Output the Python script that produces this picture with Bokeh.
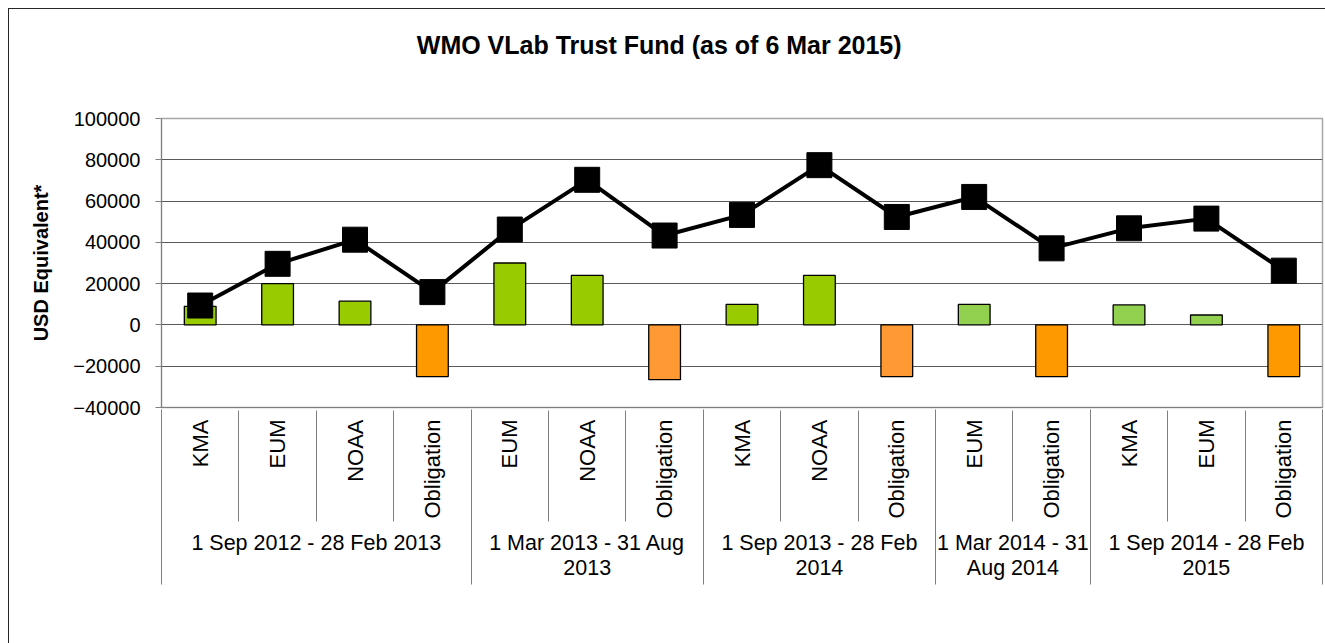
import numpy as np
from math import pi
from bokeh.plotting import figure
from bokeh.models import Range1d, FixedTicker, LinearAxis, BasicTickFormatter, ColumnDataSource
from bokeh.embed import file_html
from bokeh.resources import INLINE

# ---------------- data ----------------
title_text = "WMO VLab Trust Fund (as of 6 Mar 2015)"
y_label = "USD Equivalent*"
periods = ["1 Sep 2012 - 28 Feb 2013", "1 Mar 2013 - 31 Aug\n2013", "1 Sep 2013 - 28 Feb\n2014",
           "1 Mar 2014 - 31\nAug 2014", "1 Sep 2014 - 28 Feb\n2015"]
period_sizes = [4, 3, 3, 2, 3]
sources = ["KMA", "EUM", "NOAA", "Obligation", "EUM", "NOAA", "Obligation", "KMA", "NOAA",
           "Obligation", "EUM", "Obligation", "KMA", "EUM", "Obligation"]
amounts = [9000, 20000, 11500, -25000, 30000, 24000, -26500, 10000, 24000,
           -25000, 10000, -25000, 9700, 4800, -25000]
balance = [9400, 29600, 41300, 15900, 46200, 70300, 43300, 53300, 77400,
           52300, 62000, 37100, 46800, 51500, 26300]
y_ticks = [-40000, -20000, 0, 20000, 40000, 60000, 80000, 100000]

# ---------------- styles ----------------
G1, G2, O1, O2 = "#99CC00", "#92D050", "#FF9900", "#FF9933"
bar_colors = [G1, G1, G1, O1, G1, G1, O2, G1, G1, O2, G2, O1, G2, G2, O1]
FONT = "Liberation Sans"
LINE_GRAY = "#7F7F7F"
TITLE_X = 6.43   # horizontal centre of the chart title, in category units

n = len(sources)
xs = np.arange(n) + 0.5
bounds = np.concatenate([[0], np.cumsum(period_sizes)]).astype(float)
centers = (bounds[:-1] + bounds[1:]) / 2
all_bounds = list(np.arange(n + 1, dtype=float))

src = ColumnDataSource(dict(x=xs, amount=amounts, balance=balance, color=bar_colors))

p = figure(width=1325, height=643, x_range=Range1d(0, n), y_range=Range1d(y_ticks[0], y_ticks[-1]),
           x_axis_type=None, output_backend="svg", toolbar_location=None,
           min_border_left=161, min_border_right=3, min_border_top=118, min_border_bottom=236)
p.border_fill_color = None
p.background_fill_color = "white"
p.outline_line_color = "#A6A6A6"
p.outline_line_width = 1.5
p.styles = {
    "background": "linear-gradient(#262626,#262626) 8px 8px / 1px 100% no-repeat, "
                  "linear-gradient(#262626,#262626) 8px 8px / 100% 1px no-repeat, white",
}
p.title.text = ""

# chart title, drawn as the single label of an invisible axis above the plot
tax = LinearAxis(ticker=FixedTicker(ticks=[TITLE_X], minor_ticks=[]),
                 major_label_overrides={TITLE_X: title_text})
tax.major_label_text_font = FONT
tax.major_label_text_font_size = "25px"
tax.major_label_text_font_style = "bold"
tax.major_label_text_color = "black"
tax.major_label_standoff = 60
tax.major_tick_out = 0
tax.major_tick_in = 0
tax.major_tick_line_color = None
tax.minor_tick_line_color = None
tax.axis_line_color = None
p.add_layout(tax, "above")

# y axis
ya = p.yaxis[0]
ya.ticker = FixedTicker(ticks=y_ticks)
ya.formatter = BasicTickFormatter(use_scientific=False)
ya.major_label_text_font = FONT
ya.major_label_text_font_size = "20px"
ya.major_label_text_color = "black"
ya.major_label_standoff = 15
ya.major_tick_out = 6
ya.major_tick_in = 0
ya.minor_tick_line_color = None
ya.axis_line_color = LINE_GRAY
ya.major_tick_line_color = LINE_GRAY
ya.axis_label = y_label
ya.axis_label_text_font = FONT
ya.axis_label_text_font_size = "20px"
ya.axis_label_text_font_style = "bold"
ya.axis_label_text_color = "black"
ya.axis_label_standoff = 18

p.ygrid.ticker = FixedTicker(ticks=y_ticks[1:-1])
p.ygrid.grid_line_color = "#595959"
p.ygrid.grid_line_width = 1

# x axis 1: sources
ax1 = LinearAxis(ticker=FixedTicker(ticks=list(xs), minor_ticks=[]),
                 major_label_overrides={float(x): s for x, s in zip(xs, sources)})
ax1.major_label_orientation = pi / 2
ax1.major_label_text_font = FONT
ax1.major_label_text_font_size = "22px"
ax1.major_label_text_color = "black"
ax1.major_label_standoff = 12
ax1.major_tick_out = 0
ax1.major_tick_in = 0
ax1.minor_tick_in = 0
ax1.minor_tick_out = 0
ax1.minor_tick_line_color = None
ax1.major_tick_line_color = None
ax1.axis_line_color = LINE_GRAY
p.add_layout(ax1, "below")

# x axis 2: periods (its inward minor ticks draw the source separators)
ax2 = LinearAxis(ticker=FixedTicker(ticks=list(centers), minor_ticks=all_bounds),
                 major_label_overrides={float(c): s for c, s in zip(centers, periods)})
ax2.major_label_orientation = "horizontal"
ax2.major_label_text_font = FONT
ax2.major_label_text_font_size = "21.5px"
ax2.major_label_text_line_height = 1.07
ax2.major_label_text_color = "black"
ax2.major_label_standoff = 9
ax2.major_tick_out = 0
ax2.major_tick_in = 0
ax2.major_tick_line_color = None
ax2.minor_tick_in = 111
ax2.minor_tick_out = 0
ax2.minor_tick_line_color = LINE_GRAY
ax2.axis_line_color = None
p.add_layout(ax2, "below")

# x axis 3: no labels, inward minor ticks draw the period separators
ax3 = LinearAxis(ticker=FixedTicker(ticks=[], minor_ticks=list(bounds)))
ax3.major_label_text_font_size = "1px"
ax3.major_label_standoff = 0
ax3.major_tick_out = 0
ax3.major_tick_in = 0
ax3.major_tick_line_color = None
ax3.minor_tick_in = 174
ax3.minor_tick_out = 1
ax3.minor_tick_line_color = LINE_GRAY
ax3.axis_line_color = None
p.add_layout(ax3, "below")

# bars, line, markers
p.vbar(x="x", top="amount", bottom=0, width=0.41, fill_color="color", line_color="black",
       line_width=1.3, source=src)
p.line(x="x", y="balance", line_color="black", line_width=4, source=src)
p.scatter(x="x", y="balance", marker="square", size=25, fill_color="black", line_color="black", source=src)

open("out.html", "w").write(file_html(p, INLINE))
